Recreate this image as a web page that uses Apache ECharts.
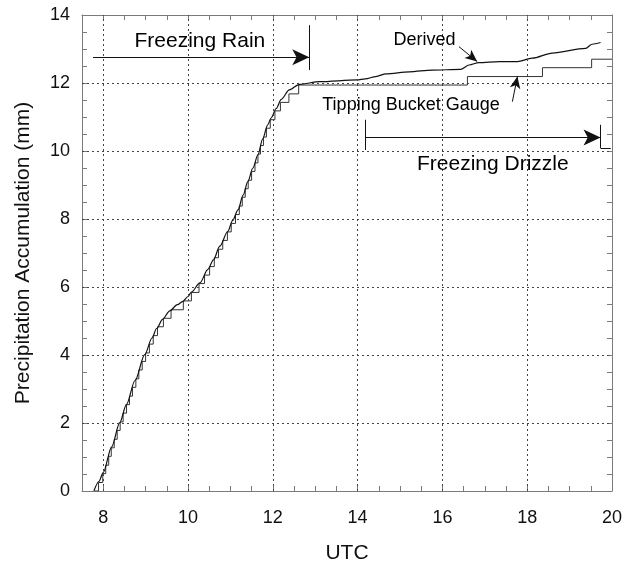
<!DOCTYPE html>
<html>
<head>
<meta charset="utf-8">
<script src="https://cdn.jsdelivr.net/npm/echarts@6/dist/echarts.min.js"></script>
<style>
  html, body { margin: 0; padding: 0; background: #fff; }
  #chart { width: 625px; height: 569px; }
</style>
</head>
<body>
<div id="chart"></div>
<script>
// Derived precipitation accumulation (hour UTC, mm)
const derivedHours = [7.78, 7.90, 8.00, 8.20, 8.39, 8.55, 8.75, 8.98, 9.15, 9.26, 9.40, 9.57, 9.75, 9.88, 10.00,
  10.08, 10.28, 10.47, 10.60, 10.75, 10.94, 11.05, 11.18, 11.30, 11.41, 11.53, 11.65, 11.76, 11.88, 11.96,
  12.08, 12.20, 12.39, 12.63, 13.10, 13.99, 14.18, 14.43, 14.67, 15.22, 15.76, 16.43, 16.63, 16.86, 17.34,
  17.77, 18.12, 18.59, 19.38, 19.53, 19.73];
const derivedMm = [0, 0.28, 0.54, 1.30, 2.01, 2.55, 3.25, 4.01, 4.50, 4.78, 5.05, 5.30, 5.48, 5.58, 5.72,
  5.85, 6.12, 6.52, 6.80, 7.20, 7.64, 7.95, 8.27, 8.70, 9.10, 9.50, 9.89, 10.35, 10.77, 10.97,
  11.25, 11.52, 11.80, 11.96, 12.04, 12.09, 12.12, 12.19, 12.27, 12.33, 12.38, 12.40, 12.53, 12.60, 12.63,
  12.63, 12.73, 12.88, 13.02, 13.14, 13.19];

// Tipping bucket gauge: time of each tip and the running total after it
const gaugeHours = [7.80, 7.89, 7.99, 8.06, 8.13, 8.19, 8.26, 8.33, 8.40, 8.47, 8.55, 8.62, 8.69, 8.77, 8.84,
  8.92, 9.00, 9.09, 9.18, 9.28, 9.42, 9.60, 9.89, 10.08, 10.26, 10.39, 10.51, 10.62, 10.72, 10.82, 10.93,
  11.02, 11.12, 11.21, 11.28, 11.35, 11.42, 11.50, 11.58, 11.65, 11.71, 11.78, 11.85, 11.94, 12.05, 12.18,
  12.38, 12.61, 16.59, 18.36, 19.52, 20.00];
const gaugeMm = [0, 0.25, 0.51, 0.76, 1.02, 1.27, 1.52, 1.78, 2.03, 2.29, 2.54, 2.79, 3.05, 3.30, 3.56,
  3.81, 4.06, 4.32, 4.57, 4.83, 5.08, 5.33, 5.59, 5.84, 6.10, 6.35, 6.60, 6.86, 7.11, 7.37, 7.62,
  7.87, 8.13, 8.38, 8.64, 8.89, 9.14, 9.40, 9.65, 9.91, 10.16, 10.41, 10.67, 10.92, 11.18, 11.43,
  11.68, 11.94, 12.19, 12.45, 12.70, 12.70];

// Axis ticks
const xTickLabels = [8, 10, 12, 14, 16, 18, 20];
const yTickLabels = [0, 2, 4, 6, 8, 10, 12, 14];
const xGridHours = [8, 10, 12, 14, 16, 18];
const yGridMm = [2, 4, 6, 8, 10, 12];

// Precipitation type periods (hour UTC)
const freezingRainPeriod = [7.76, 12.86];
const freezingDrizzlePeriod = [14.18, 19.73];

const FONT = 'Liberation Sans, Arial, Helvetica, sans-serif';
const AX = '#7a7a7a';

const chart = echarts.init(document.getElementById('chart'), null, { renderer: 'canvas' });

function seg(x1, y1, x2, y2, endArrow, size) {
  return [
    { coord: [x1, y1], symbol: 'none' },
    endArrow ? { coord: [x2, y2], symbol: 'arrow', symbolSize: size } : { coord: [x2, y2], symbol: 'none' }
  ];
}

const textItem = (x, y, text, size) => ({
  value: [x, y],
  label: { show: true, position: 'inside', formatter: text, fontSize: size, color: '#000', fontFamily: FONT }
});

const xCommon = {
  type: 'value', min: 7.5, max: 20, interval: 0.5,
  axisLine: { show: true, onZero: false, lineStyle: { color: AX, width: 1 } },
  axisTick: { show: true, inside: true, length: 5, lineStyle: { color: AX } },
  splitLine: { show: false }
};
const yCommon = {
  type: 'value', min: 0, max: 14, interval: 2,
  axisLine: { show: true, onZero: false, lineStyle: { color: AX, width: 1 } },
  axisTick: { show: true, inside: true, length: 5, lineStyle: { color: AX } },
  minorTick: { show: true, splitNumber: 4, length: 5, lineStyle: { color: AX } },
  splitLine: { show: false }
};

const option = {
  animation: false,
  backgroundColor: '#fff',
  grid: { left: 82, right: 12, top: 15, bottom: 77 },
  xAxis: [
    Object.assign({}, xCommon, {
      position: 'bottom',
      axisLabel: {
        formatter: v => (xTickLabels.indexOf(v) >= 0 ? String(v) : ''),
        margin: 18, fontSize: 18, color: '#111', fontFamily: FONT
      },
      name: 'UTC', nameLocation: 'middle', nameGap: 52,
      nameTextStyle: { fontSize: 21, color: '#111', fontFamily: FONT }
    }),
    Object.assign({}, xCommon, { position: 'top', axisLabel: { show: false } })
  ],
  yAxis: [
    Object.assign({}, yCommon, {
      position: 'left',
      axisLabel: {
        formatter: v => (yTickLabels.indexOf(v) >= 0 ? String(v) : ''),
        margin: 12, fontSize: 18, color: '#111', fontFamily: FONT
      },
      name: 'Precipitation Accumulation (mm)', nameLocation: 'middle', nameGap: 48,
      nameTextStyle: { fontSize: 21, color: '#111', fontFamily: FONT }
    }),
    Object.assign({}, yCommon, { position: 'right', axisLabel: { show: false } })
  ],
  series: [
    {
      // dotted grid lines at the major ticks
      name: 'grid', type: 'line', data: [], z: 1, silent: true,
      markLine: {
        silent: true, symbol: 'none', label: { show: false },
        lineStyle: { color: '#444', width: 1, type: [2, 3] },
        emphasis: { disabled: true },
        data: xGridHours.map(h => ({ xAxis: h })).concat(yGridMm.map(m => ({ yAxis: m })))
      }
    },
    {
      name: 'Tipping Bucket Gauge', type: 'line', step: 'end',
      data: gaugeHours.map((h, i) => [h, gaugeMm[i]]),
      showSymbol: false, symbol: 'none', z: 3, silent: true,
      lineStyle: { color: '#333', width: 1 },
      markLine: {
        silent: true, label: { show: false }, emphasis: { disabled: true },
        lineStyle: { color: '#111', width: 1, type: 'solid' },
        data: [
          // freezing rain period arrow and end bar
          seg(freezingRainPeriod[0], 12.76, freezingRainPeriod[1], 12.76, true, [12, 17]),
          seg(freezingRainPeriod[1], 12.38, freezingRainPeriod[1], 13.70, false),
          // freezing drizzle period arrow and bars
          seg(freezingDrizzlePeriod[0], 10.40, freezingDrizzlePeriod[1], 10.40, true, [12, 17]),
          seg(freezingDrizzlePeriod[0], 10.03, freezingDrizzlePeriod[0], 10.92, false),
          seg(freezingDrizzlePeriod[1], 10.09, freezingDrizzlePeriod[1], 10.77, false),
          seg(freezingDrizzlePeriod[1], 10.09, 19.97, 10.09, false),
          // pointers to the two curves
          seg(16.39, 13.07, 16.82, 12.63, true, [8, 12]),
          seg(17.65, 11.45, 17.77, 12.19, true, [8, 12])
        ]
      }
    },
    {
      name: 'Derived', type: 'line',
      data: derivedHours.map((h, i) => [h, derivedMm[i]]),
      smooth: 0.3, smoothMonotone: 'x',
      showSymbol: false, symbol: 'none', z: 4, silent: true,
      lineStyle: { color: '#111', width: 1.2 }
    },
    {
      name: 'labels', type: 'scatter', z: 5, silent: true,
      symbolSize: 1, itemStyle: { color: 'rgba(0,0,0,0)', opacity: 1 },
      emphasis: { disabled: true },
      data: [
        textItem(10.28, 13.24, 'Freezing Rain', 21),
        textItem(17.19, 9.62, 'Freezing Drizzle', 21),
        textItem(15.58, 13.26, 'Derived', 18),
        textItem(15.26, 11.35, 'Tipping Bucket Gauge', 18)
      ]
    }
  ]
};

chart.setOption(option);
</script>
</body>
</html>
